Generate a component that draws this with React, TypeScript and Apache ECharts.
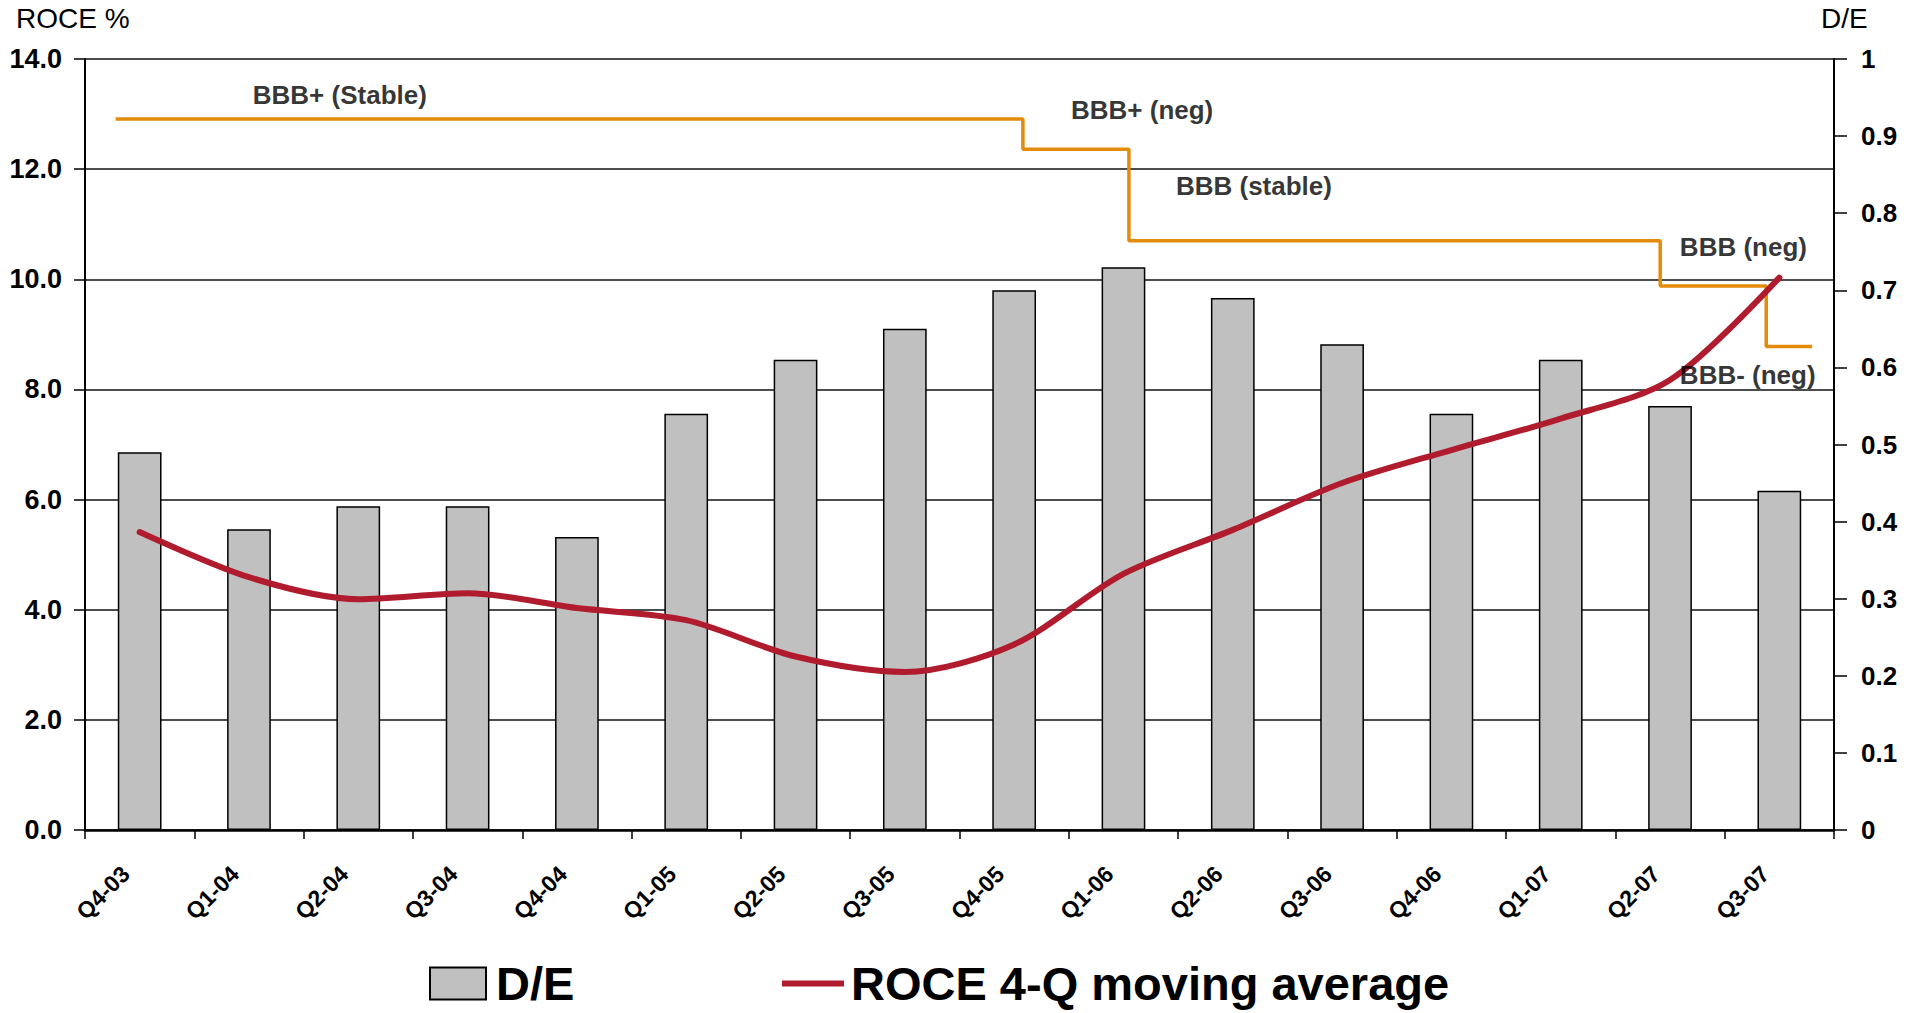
import React, { useEffect, useRef } from "react";
import * as echarts from "echarts";

const categories = ["Q4-03", "Q1-04", "Q2-04", "Q3-04", "Q4-04", "Q1-05", "Q2-05", "Q3-05", "Q4-05", "Q1-06", "Q2-06", "Q3-06", "Q4-06", "Q1-07", "Q2-07", "Q3-07"];
const deRatio = [0.49, 0.39, 0.42, 0.42, 0.38, 0.54, 0.61, 0.65, 0.70, 0.73, 0.69, 0.63, 0.54, 0.61, 0.55, 0.44];
const roce = [5.41, 4.59, 4.19, 4.30, 4.03, 3.81, 3.15, 2.87, 3.37, 4.65, 5.45, 6.30, 6.90, 7.47, 8.17, 10.03];
// rating path (x in category units, y in ROCE scale)
const ratingX = [0.28, 8.58, 9.55, 14.41, 15.38, 15.8];
const ratingY = [12.91, 12.36, 10.7, 9.88, 8.78, 8.78];
const ratingLabels = ["BBB+ (Stable)", "BBB+ (neg)", "BBB (stable)", "BBB (neg)", "BBB- (neg)"];
const ratingLabelX = [1.535, 9.02, 9.98, 14.59, 14.59];
const ratingLabelY = [13.34, 13.07, 11.69, 10.59, 8.27];

const FONT = "'Liberation Sans', Arial, sans-serif";

export default function App() {
  const ref = useRef<HTMLDivElement>(null);
  useEffect(() => {
    if (!ref.current) return;
    const chart = echarts.init(ref.current, undefined, { renderer: "svg" });
    const option: any = {
      animation: false,
      backgroundColor: "#ffffff",
      textStyle: { fontFamily: FONT, color: "#000" },
      grid: { left: 85, right: 83, top: 59, bottom: 183, containLabel: false },
      legend: [
        {
          data: ["D/E"],
          left: 424,
          top: 955,
          icon: "rect",
          itemWidth: 56,
          itemHeight: 32,
          textStyle: { fontFamily: FONT, fontSize: 47, fontWeight: "bold", color: "#000", padding: [0, 0, 0, 5] },
        },
        {
          data: ["ROCE 4-Q moving average"],
          left: 777,
          top: 955,
          itemWidth: 62,
          itemHeight: 6,
          icon: "rect",
          textStyle: { fontFamily: FONT, fontSize: 47, fontWeight: "bold", color: "#000", padding: [0, 0, 0, 2] },
        },
      ],
      xAxis: [
        {
          type: "category",
          data: categories,
          boundaryGap: true,
          axisLine: { lineStyle: { color: "#000", width: 2.5 } },
          axisTick: { show: true, length: 9, interval: 0, lineStyle: { color: "#000", width: 1.5 } },
          axisLabel: {
            interval: 0,
            rotate: 45,
            margin: 26,
            padding: [0, 20, 0, 0],
            fontFamily: FONT,
            fontSize: 23,
            fontWeight: "bold",
            color: "#000",
          },
          splitLine: { show: false },
        },
        {
          type: "value",
          min: 0,
          max: 16,
          show: false,
        },
      ],
      yAxis: [
        {
          type: "value",
          min: 0,
          max: 14,
          interval: 2,
          position: "left",
          axisLine: { show: true, lineStyle: { color: "#000", width: 2 } },
          axisTick: { show: true, length: 11, lineStyle: { color: "#000", width: 1.5 } },
          axisLabel: {
            margin: 23,
            fontFamily: FONT,
            fontSize: 27,
            fontWeight: "bold",
            color: "#000",
            formatter: (v: number) => v.toFixed(1),
          },
          splitLine: { show: true, lineStyle: { color: "#111", width: 1.5 } },
        },
        {
          type: "value",
          min: 0,
          max: 1,
          interval: 0.1,
          position: "right",
          axisLine: { show: true, lineStyle: { color: "#000", width: 2 } },
          axisTick: { show: true, length: 13, lineStyle: { color: "#000", width: 1.5 } },
          axisLabel: {
            margin: 27,
            fontFamily: FONT,
            fontSize: 26,
            fontWeight: "bold",
            color: "#000",
            formatter: (v: number) => String(Math.round(v * 10) / 10),
          },
          splitLine: { show: false },
        },
      ],
      series: [
        {
          name: "D/E",
          type: "bar",
          xAxisIndex: 0,
          yAxisIndex: 1,
          data: deRatio,
          barWidth: "40%",
          itemStyle: { color: "#C0C0C0", borderColor: "#000", borderWidth: 1.5 },
          z: 2,
        },
        {
          name: "ROCE 4-Q moving average",
          type: "line",
          xAxisIndex: 0,
          yAxisIndex: 0,
          data: roce,
          smooth: 0.3,
          symbol: "none",
          color: "#B01C2E",
          lineStyle: { color: "#B01C2E", width: 6, cap: "round" },
          itemStyle: { color: "#B01C2E" },
          z: 4,
        },
        {
          name: "Rating",
          type: "line",
          xAxisIndex: 1,
          yAxisIndex: 0,
          step: "end",
          data: ratingX.map((x, i) => [x, ratingY[i]]),
          symbol: "none",
          lineStyle: { color: "#E38B0A", width: 3.5 },
          z: 3,
          silent: true,
        },
        {
          name: "RatingLabels",
          type: "scatter",
          xAxisIndex: 1,
          yAxisIndex: 0,
          symbolSize: 0,
          silent: true,
          z: 6,
          data: ratingLabels.map((n, i) => ({ name: n, value: [ratingLabelX[i], ratingLabelY[i]] })),
          label: {
            show: true,
            position: "inside",
            align: "left",
            verticalAlign: "middle",
            formatter: "{b}",
            fontFamily: FONT,
            fontSize: 26,
            fontWeight: "bold",
            color: "#000",
          },
        },
      ],
      graphic: [
        {
          type: "text",
          left: 16,
          top: 4,
          style: { text: "ROCE %", font: `28px ${FONT}`, fill: "#000" },
        },
        {
          type: "text",
          left: 1821,
          top: 4,
          style: { text: "D/E", font: `28px ${FONT}`, fill: "#000" },
        },
      ],
    };
    chart.setOption(option);
    return () => chart.dispose();
  }, []);
  return <div ref={ref} style={{ position: "fixed", left: 0, top: 0, width: "1917px", height: "1013px" }} />;
}
